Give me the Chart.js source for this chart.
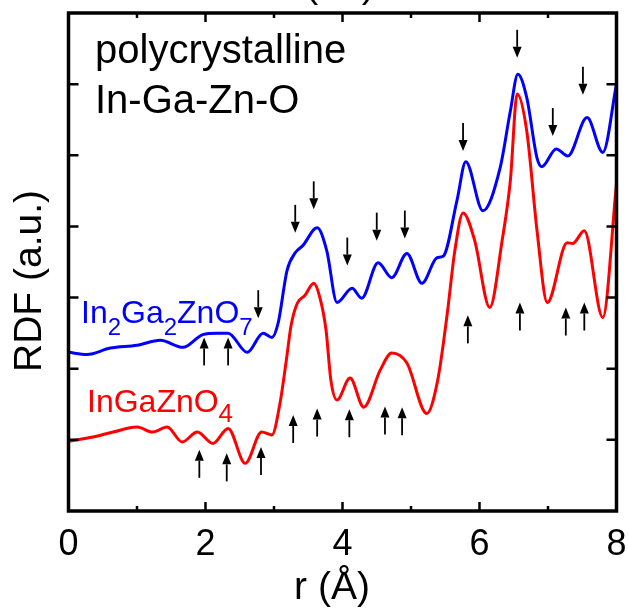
<!DOCTYPE html>
<html>
<head>
<meta charset="utf-8">
<script src="https://cdn.jsdelivr.net/npm/chart.js@4.4.0/dist/chart.umd.min.js"></script>
<style>
html, body { margin: 0; padding: 0; background: #fff; }
</style>
</head>
<body>
<canvas id="rdf" width="628" height="611"></canvas>
<script>
// RDF curves, r in angstrom, RDF offset in arbitrary units
const rBlue = [0, 0.27, 0.61, 1.00, 1.34, 1.67, 1.96, 2.17, 2.33, 2.61, 2.84, 2.97, 3.06, 3.19, 3.31, 3.42, 3.63, 3.77, 3.92, 4.14, 4.28, 4.52, 4.72, 4.94, 5.16, 5.38, 5.47, 5.67, 5.80, 6.05, 6.30, 6.45, 6.56, 6.69, 6.84, 6.91, 7.12, 7.29, 7.57, 7.80, 8.00];
const rdfBlue = [2.23, 2.20, 2.29, 2.33, 2.40, 2.30, 2.48, 2.50, 2.50, 2.23, 2.50, 2.44, 2.64, 3.38, 3.63, 3.73, 3.98, 3.66, 2.93, 3.13, 2.99, 3.49, 3.28, 3.62, 3.20, 3.56, 3.58, 4.36, 4.91, 4.22, 4.82, 5.62, 6.14, 5.81, 4.96, 4.84, 5.09, 4.99, 5.53, 5.04, 6.00];

const rRed = [0, 0.36, 0.65, 1.00, 1.23, 1.44, 1.66, 1.88, 2.11, 2.33, 2.58, 2.82, 2.97, 3.09, 3.18, 3.25, 3.34, 3.45, 3.58, 3.67, 3.76, 3.83, 3.92, 4.11, 4.31, 4.55, 4.72, 4.94, 5.23, 5.39, 5.53, 5.64, 5.76, 5.93, 6.15, 6.33, 6.45, 6.55, 6.69, 6.84, 6.99, 7.28, 7.36, 7.53, 7.80, 8.00];
const rdfRed = [0.98, 1.04, 1.11, 1.18, 1.11, 1.18, 0.97, 1.11, 0.95, 1.16, 0.67, 1.11, 1.07, 1.53, 2.12, 2.61, 2.92, 3.03, 3.20, 3.00, 2.54, 1.84, 1.56, 1.87, 1.46, 1.98, 2.22, 2.08, 1.37, 1.84, 2.78, 3.66, 4.19, 3.80, 2.86, 3.80, 4.64, 5.86, 5.34, 3.94, 2.93, 3.77, 3.76, 3.94, 2.72, 4.60];

const xTicks = [1, 2, 3, 4, 5, 6, 7];
const yTicks = [1, 2, 3, 4, 5, 6];

// arrow tips (r, RDF)
const downR = [2.77, 3.31, 3.58, 4.07, 4.50, 4.91, 5.76, 6.55, 7.07, 7.51];
const downY = [2.71, 3.91, 4.24, 3.45, 3.80, 3.83, 5.06, 6.37, 5.27, 5.85];
const upR = [1.98, 2.33, 1.91, 2.31, 2.81, 3.28, 3.63, 4.10, 4.62, 4.87, 5.83, 6.59, 7.26, 7.53];
const upY = [2.44, 2.44, 0.86, 0.81, 0.90, 1.35, 1.44, 1.43, 1.47, 1.46, 2.75, 2.93, 2.86, 2.93];

const FONT = '"Liberation Sans", Arial, Helvetica, sans-serif';

function pts(xs, ys) {
    return xs.map((x, i) => ({x: x, y: ys[i]}));
}

function arrow(ctx, x, tip, dir) {
    // dir = 1: pointing down, dir = -1: pointing up
    let len = 28, head = 11, hw = 4.5;
    ctx.beginPath();
    ctx.moveTo(x, tip - dir * len);
    ctx.lineTo(x, tip - dir * head);
    ctx.lineWidth = 1.8;
    ctx.stroke();
    ctx.beginPath();
    ctx.moveTo(x, tip);
    ctx.lineTo(x - hw, tip - dir * head);
    ctx.lineTo(x + hw, tip - dir * head);
    ctx.closePath();
    ctx.fill();
}

function subText(ctx, parts, x, y, big, small, drop) {
    // parts: [text, isSub]
    for (let p of parts) {
        ctx.font = (p[1] ? small : big) + 'px ' + FONT;
        ctx.fillText(p[0], x, p[1] ? y + drop : y);
        x += ctx.measureText(p[0]).width;
    }
}

const decor = {
    id: 'decor',
    afterDatasetsDraw(chart) {
        const ctx = chart.ctx;
        const a = chart.chartArea;
        const xs = chart.scales.x, ys = chart.scales.y;
        ctx.save();
        ctx.strokeStyle = '#000';
        ctx.fillStyle = '#000';

        // inward ticks
        ctx.lineWidth = 2.5;
        for (let v of xTicks) {
            let px = xs.getPixelForValue(v);
            let l = v % 2 === 0 ? 9 : 5;
            ctx.beginPath();
            ctx.moveTo(px, a.bottom); ctx.lineTo(px, a.bottom - l);
            ctx.moveTo(px, a.top); ctx.lineTo(px, a.top + l);
            ctx.stroke();
        }
        for (let v of yTicks) {
            let py = ys.getPixelForValue(v);
            ctx.beginPath();
            ctx.moveTo(a.left, py); ctx.lineTo(a.left + 10, py);
            ctx.moveTo(a.right, py); ctx.lineTo(a.right - 10, py);
            ctx.stroke();
        }
        // frame
        ctx.lineWidth = 3.5;
        ctx.strokeRect(a.left, a.top, a.right - a.left, a.bottom - a.top);

        // arrows
        for (let i = 0; i < downR.length; i++) {
            arrow(ctx, xs.getPixelForValue(downR[i]), ys.getPixelForValue(downY[i]), 1);
        }
        for (let i = 0; i < upR.length; i++) {
            arrow(ctx, xs.getPixelForValue(upR[i]), ys.getPixelForValue(upY[i]), -1);
        }

        // text
        ctx.textAlign = 'left';
        ctx.textBaseline = 'alphabetic';
        ctx.font = '40px ' + FONT;
        ctx.fillText('polycrystalline', 95, 63);
        ctx.fillText('In-Ga-Zn-O', 95, 113);

        ctx.fillStyle = '#0000ff';
        subText(ctx, [['In', 0], ['2', 1], ['Ga', 0], ['2', 1], ['ZnO', 0], ['7', 1]], 81, 323, 32, 24, 12);
        ctx.fillStyle = '#ff0000';
        subText(ctx, [['InGaZnO', 0], ['4', 1]], 87, 412, 32, 26, 10);

        // axis titles
        ctx.fillStyle = '#000';
        ctx.textAlign = 'center';
        ctx.textBaseline = 'middle';
        ctx.font = '39px ' + FONT;
        ctx.fillText('r (\u00c5)', 332, 588);
        ctx.textBaseline = 'alphabetic';
        ctx.fillText('( b )', 340, -3);
        ctx.save();
        ctx.translate(30, 281);
        ctx.rotate(-Math.PI / 2);
        ctx.textBaseline = 'middle';
        ctx.fillText('RDF (a.u.)', 0, 0);
        ctx.restore();

        ctx.restore();
    }
};

const config = {
    type: 'scatter',
    data: {
        datasets: [{
            label: 'In2Ga2ZnO7',
            data: pts(rBlue, rdfBlue),
            showLine: true,
            borderColor: '#0000ff',
            borderWidth: 3,
            pointRadius: 0,
            cubicInterpolationMode: 'monotone'
        }, {
            label: 'InGaZnO4',
            data: pts(rRed, rdfRed),
            showLine: true,
            borderColor: '#ff0000',
            borderWidth: 3,
            pointRadius: 0,
            cubicInterpolationMode: 'monotone'
        }]
    },
    options: {
        responsive: false,
        animation: false,
        layout: { padding: { left: 0, right: 11.5, top: 13, bottom: 0 } },
        plugins: { legend: { display: false }, tooltip: { enabled: false } },
        scales: {
            x: {
                type: 'linear', min: 0, max: 8,
                grid: { display: false, drawTicks: false },
                border: { display: false },
                ticks: {
                    stepSize: 2, autoSkip: false, maxRotation: 0, padding: 12,
                    color: '#000',
                    font: { size: 36, family: FONT }
                },
                afterFit: s => { s.height = 100; s.paddingRight = 0; }
            },
            y: {
                min: 0, max: 7,
                grid: { display: false, drawTicks: false },
                border: { display: false },
                ticks: { display: false },
                afterFit: s => { s.width = 68.5; }
            }
        }
    },
    plugins: [decor]
};

new Chart(document.getElementById('rdf').getContext('2d'), config);
</script>
</body>
</html>
